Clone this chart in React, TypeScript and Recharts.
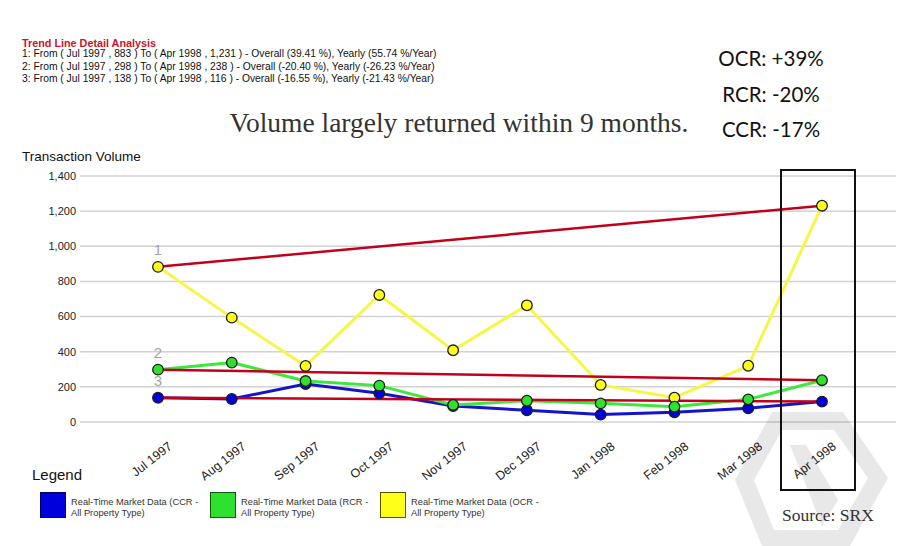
import React from "react"
import { LineChart, Line, XAxis, YAxis, CartesianGrid, LabelList } from "recharts"

// categories and values
const months = ["Jul 1997", "Aug 1997", "Sep 1997", "Oct 1997", "Nov 1997", "Dec 1997", "Jan 1998", "Feb 1998", "Mar 1998", "Apr 1998"]
const ocr = [883, 594, 319, 723, 408, 664, 211, 138, 320, 1231]
const rcr = [298, 338, 233, 207, 97, 121, 106, 87, 129, 238]
const ccr = [138, 131, 216, 163, 91, 67, 42, 55, 78, 116]

// trend lines: first and last month only
const trendStart = [883, 298, 138]
const trendEnd = [1231, 238, 116]
const trendLabels = ["1", "2", "3"]

const yTicks = [0, 200, 400, 600, 800, 1000, 1200, 1400]

const trendText = [
  "1: From ( Jul 1997 , 883 ) To ( Apr 1998 , 1,231 ) - Overall (39.41 %), Yearly (55.74 %/Year)",
  "2: From ( Jul 1997 , 298 ) To ( Apr 1998 , 238 ) - Overall (-20.40 %), Yearly (-26.23 %/Year)",
  "3: From ( Jul 1997 , 138 ) To ( Apr 1998 , 116 ) - Overall (-16.55 %), Yearly (-21.43 %/Year)",
]
const changes = ["OCR: +39%", "RCR: -20%", "CCR: -17%"]

const series = [
  { key: "ocr", name: "Real-Time Market Data (OCR -", name2: "All Property Type)", line: "#f6f645", dot: "#ffff1a", box: "#555500" },
  { key: "ccr", name: "Real-Time Market Data (CCR -", name2: "All Property Type)", line: "#1414c8", dot: "#0000dd", box: "#000066" },
  { key: "rcr", name: "Real-Time Market Data (RCR -", name2: "All Property Type)", line: "#3be83b", dot: "#2fe02f", box: "#0b5a0b" },
]
const legendOrder = ["ccr", "rcr", "ocr"]

const rows = months.map((m, i) => {
  const last = i === months.length - 1
  const row: any = { month: m, ocr: ocr[i], rcr: rcr[i], ccr: ccr[i] }
  trendStart.forEach((v, t) => {
    row["trend" + t] = i === 0 ? v : last ? trendEnd[t] : null
  })
  return row
})

const SANS = "'Liberation Sans', Arial, Helvetica, sans-serif"
const SERIF = "'Liberation Serif', 'Times New Roman', serif"

const MonthTick = ({ x, y, payload }: any) => (
  <text
    transform={`translate(${x + 15},${y + 26}) rotate(-38)`}
    textAnchor="end"
    fontSize={12.5}
    fontFamily={SANS}
    fill="#222"
  >
    {payload.value}
  </text>
)

const makeDot = (fill: string) => (props: any) => {
  const { cx, cy, index } = props
  if (cx == null || cy == null) return <g key={index} />
  return <circle key={index} cx={cx} cy={cy} r={5.3} fill={fill} stroke="#1e1e1e" strokeWidth={1.3} />
}

const makeTrendLabel = (t: number) => (props: any) => {
  const { x, y, index } = props
  if (index !== 0) return null
  return (
    <text x={x} y={y - 17} textAnchor="middle" dominantBaseline="central" fontSize={15} fill="#a5a5a5" fontFamily={SANS}>
      {trendLabels[t]}
    </text>
  )
}

export default function App() {
  return (
    <div style={{ position: "absolute", left: 0, top: 0, width: 902, height: 546, background: "#fff", overflow: "hidden", fontFamily: SANS }}>
      <div style={{ position: "absolute", left: 22, top: 37, color: "#c8142c", fontWeight: "bold", fontSize: 10.8 }}>
        Trend Line Detail Analysis
      </div>
      {trendText.map((t, i) => (
        <div key={i} style={{ position: "absolute", left: 22, top: 48 + i * 12.5, fontSize: 10.3, color: "#111", whiteSpace: "nowrap" }}>
          {t}
        </div>
      ))}
      <div style={{ position: "absolute", left: 0, width: 918, top: 107, textAlign: "center", fontFamily: SERIF, fontSize: 27.5, color: "#333" }}>
        Volume largely returned within 9 months.
      </div>
      {changes.map((c, i) => (
        <div key={c} style={{ position: "absolute", left: 690, width: 162, top: 46 + i * 35.5, textAlign: "center", fontFamily: "Lato, 'Open Sans', sans-serif", fontSize: 20.5, color: "#111" }}>
          {c}
        </div>
      ))}
      <div style={{ position: "absolute", left: 22, top: 149, fontSize: 13.5, color: "#111" }}>Transaction Volume</div>

      <LineChart width={902} height={546} data={rows} margin={{ top: 176, right: 6, bottom: 0, left: 10 }} style={{ position: "absolute", left: 0, top: 0 }}>
        <CartesianGrid vertical={false} stroke="#d2d2d2" strokeWidth={1.5} />
        <XAxis
          dataKey="month"
          height={124}
          padding={{ left: 78, right: 74 }}
          axisLine={false}
          tickLine={false}
          tickSize={0}
          tickMargin={0}
          interval={0}
          tick={<MonthTick />}
        />
        <YAxis
          width={70}
          domain={[0, 1400]}
          ticks={yTicks}
          axisLine={false}
          tickLine={false}
          tickSize={0}
          tickMargin={4}
          tickFormatter={(v: number) => v.toLocaleString("en-US")}
          tick={{ fontSize: 11, fill: "#222", fontFamily: SANS }}
        />
        {series.map((s) => (
          <Line
            key={s.key}
            dataKey={s.key}
            type="linear"
            stroke={s.line}
            strokeWidth={3}
            dot={makeDot(s.dot)}
            activeDot={false}
            isAnimationActive={false}
          />
        ))}
        {trendStart.map((_, t) => (
          <Line
            key={"trend" + t}
            dataKey={"trend" + t}
            type="linear"
            stroke="#c2001c"
            strokeWidth={2.5}
            connectNulls
            dot={false}
            activeDot={false}
            isAnimationActive={false}
          >
            <LabelList dataKey={"trend" + t} content={makeTrendLabel(t)} />
          </Line>
        ))}
      </LineChart>

      {/* faint watermark */}
      <svg width={902} height={546} style={{ position: "absolute", left: 0, top: 0, pointerEvents: "none" }}>
        <path
          fillRule="evenodd"
          fill="#000"
          opacity={0.09}
          d="M772 412 L843 412 L888 478 L850 546 L762 546 L735 480 Z M782 430 L834 430 L868 478 L838 530 L774 530 L754 480 Z"
        />
        <path fill="#000" opacity={0.09} d="M790 445 L806 445 L838 500 L822 526 Z" />
      </svg>

      <div style={{ position: "absolute", left: 780, top: 169, width: 72, height: 318, border: "2px solid #111" }} />

      <div style={{ position: "absolute", left: 32, top: 466, fontSize: 15, color: "#111" }}>Legend</div>
      {legendOrder.map((k, i) => {
        const s = series.find((x) => x.key === k)!
        return (
          <div key={k} style={{ position: "absolute", left: 40 + i * 170, top: 492, display: "flex", alignItems: "flex-start" }}>
            <div style={{ width: 24, height: 24, background: s.dot, border: `1.5px solid ${s.box}` }} />
            <div style={{ marginLeft: 5, fontSize: 9.3, lineHeight: "10.5px", color: "#333", marginTop: 5, whiteSpace: "nowrap" }}>
              {s.name}
              <br />
              {s.name2}
            </div>
          </div>
        )
      })}
      <div style={{ position: "absolute", left: 782, top: 505, fontFamily: SERIF, fontSize: 17.5, color: "#333" }}>Source: SRX</div>
    </div>
  )
}
